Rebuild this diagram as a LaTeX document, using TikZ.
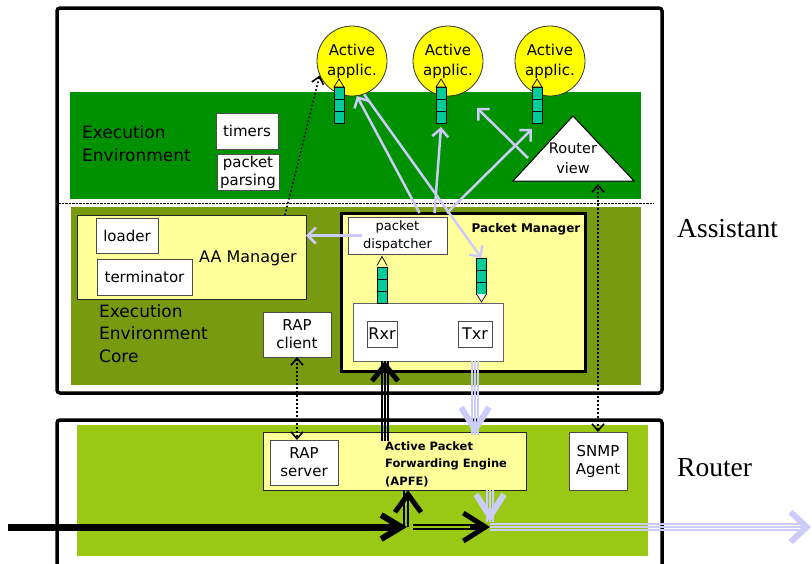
\documentclass[tikz,border=0pt]{standalone}
\usepackage{fontspec}
\setmainfont{DejaVu Sans}
\newfontfamily\lblserif{Liberation Serif}
\usetikzlibrary{arrows.meta}
\definecolor{eegreen}{RGB}{0,145,0}
\definecolor{olivebg}{RGB}{120,154,16}
\definecolor{rgreen}{RGB}{153,201,20}
\definecolor{lyel}{RGB}{255,255,153}
\definecolor{appyel}{RGB}{255,255,0}
\definecolor{qteal}{RGB}{0,204,153}
\definecolor{lav}{RGB}{204,204,250}
\tikzset{
  chev/.tip={Straight Barb[length=7pt,width=12pt,line width=1.6pt]},
  lchev/.tip={Straight Barb[length=8pt,width=16pt,line width=2.5pt]},
}
\begin{document}
\begin{tikzpicture}[x=1pt,y=-1pt,
  region/.style={anchor=north west, inner sep=0pt, outer sep=0pt, draw=none},
  box/.style={draw=black!70, fill=white, line width=0.9pt, inner sep=0pt, outer sep=0pt, align=center, font=\fontsize{15}{18}\selectfont},
  ybox/.style={draw=black!85, fill=lyel, line width=1pt},
  lbl/.style={inner sep=0pt, align=left, font=\fontsize{17}{23}\selectfont},
  app/.style={circle, draw=black!80, fill=appyel, line width=0.8pt, minimum size=70pt, inner sep=0pt, align=center, font=\fontsize{15}{20}\selectfont},
  queue/.style={draw=black, fill=qteal, line width=0.7pt, minimum width=10pt, minimum height=36pt, inner sep=0pt, outer sep=0pt,
    path picture={\draw[line width=0.7pt] ([yshift=-12pt]path picture bounding box.north west) -- ([yshift=-12pt]path picture bounding box.north east) ([yshift=12pt]path picture bounding box.south west) -- ([yshift=12pt]path picture bounding box.south east);}},
  frame/.style={draw=black, line width=3.5pt, rounded corners=3pt, fill=white},
  dotline/.style={line width=1.6pt, dash pattern=on 1.6pt off 2.4pt},
  lavarrow/.style={draw=lav, line width=2.5pt, -lchev},
  lavthin/.style={draw=lav, line width=1.5pt},
  blkthin/.style={draw=black, line width=1.6pt},
]
\useasboundingbox (0,0) rectangle (812,563);

% frames and backgrounds
\node[region, frame, minimum width=605pt, minimum height=385pt] (asst) at (57,8) {};
\node[region, frame, minimum width=605pt, minimum height=170pt] (rtr) at (57,420) {};
\node[region, fill=eegreen, minimum width=571pt, minimum height=107pt] (ee) at (70,92) {};
\coordinate (sepL) at (58,203);
\coordinate (sepR) at (654,203);
\draw[black, line width=0.9pt, dash pattern=on 2.5pt off 1pt] (sepL) -- (sepR);
\node[region, fill=olivebg, minimum width=570pt, minimum height=178pt] (eec) at (71,207) {};
\node[region, fill=rgreen, minimum width=571pt, minimum height=131pt] (rbg) at (77,425) {};

% execution environment
\node[lbl, anchor=west] (eelbl) at (82,143.5) {Execution\\Environment};
\node[box, minimum width=62pt, minimum height=36pt] (timers) at (247,131) {timers};
\node[box, minimum width=62pt, minimum height=36pt] (parse) at (248,172) {packet\\parsing};
\node[app] (c1) at (352,61) {Active\\applic.};
\node[app] (c2) at (448,61) {Active\\applic.};
\node[app] (c3) at (550,61) {Active\\applic.};
\node[queue] (q1) at (339,105) {};
\node[queue] (q2) at (441,105) {};
\node[queue] (q3) at (537,105) {};
\foreach \q in {q1,q2,q3}
  \draw[fill=appyel, line width=0.7pt] (\q.north west) -- ([yshift=8pt]\q.north) -- (\q.north east) -- cycle;
\coordinate (rvL) at (513,181);
\coordinate (rvT) at (573,116);
\coordinate (rvR) at (634,181);
\draw[fill=white, line width=1pt] (rvL) -- (rvT) -- (rvR) -- cycle;
\node[inner sep=0pt, align=center, font=\fontsize{14.5}{20}\selectfont] (rvlbl) at (573,158) {Router\\view};

% execution environment core
\node[region, ybox, minimum width=229pt, minimum height=84pt] (aa) at (77,215) {};
\node[inner sep=0pt, font=\fontsize{16}{19}\selectfont] (aalbl) at (248,258) {AA Manager};
\node[box, minimum width=62pt, minimum height=35pt] (loader) at (127,235.5) {loader};
\node[box, minimum width=95pt, minimum height=36pt] (term) at (144.5,277) {terminator};
\node[lbl, anchor=west, font=\fontsize{17}{22.5}\selectfont] (eeclbl) at (99,333.5) {Execution\\Environment\\Core};
\node[box, minimum width=68pt, minimum height=45pt] (rapc) at (297,334.5) {RAP\\client};

% packet manager
\node[region, ybox, draw=black, line width=3pt, minimum width=244pt, minimum height=158pt] (pm) at (341,213) {};
\node[inner sep=0pt, font=\fontsize{12}{14}\selectfont\bfseries] (pmlbl) at (526,229) {Packet Manager};
\node[box, minimum width=99pt, minimum height=37pt, font=\fontsize{13}{18}\selectfont] (disp) at (397.5,235.5) {packet\\dispatcher};
\node[box, draw=black!60, minimum width=150pt, minimum height=58pt] (rxtx) at (428,332) {};
\node[box, minimum width=30pt, minimum height=26pt, font=\fontsize{16}{18}\selectfont] (rxr) at (382,334) {Rxr};
\node[box, minimum width=34pt, minimum height=26pt, font=\fontsize{16}{18}\selectfont] (txr) at (475,334) {Txr};
\node[queue] (q4) at (382,285.5) {};
\node[queue] (q5) at (481.5,276) {};
\draw[line width=0.7pt] ([yshift=2pt]q4.north west) -- ([yshift=11pt]q4.north) -- ([yshift=2pt]q4.north east);
\draw[fill=white, line width=0.7pt] (q5.south west) -- ([yshift=-8pt]q5.south) -- (q5.south east);

% router
\node[region, ybox, minimum width=263pt, minimum height=58pt] (apfe) at (263,432) {};
\node[inner sep=0pt, anchor=west, align=left, font=\fontsize{11.5}{17.5}\selectfont\bfseries] (apfelbl) at (385,464) {Active Packet\\Forwarding Engine\\(APFE)};
\node[box, minimum width=68pt, minimum height=45pt] (raps) at (304,462.5) {RAP\\server};
\node[box, minimum width=58pt, minimum height=58pt] (snmp) at (598,461) {SNMP\\Agent};

% side labels
\node[anchor=west, inner sep=0pt, font=\lblserif\fontsize{27.5}{30}\selectfont] (asstlbl) at (677,229) {Assistant};
\node[anchor=west, inner sep=0pt, font=\lblserif\fontsize{27.5}{30}\selectfont] (rtrlbl) at (677,468) {Router};

% dotted connectors
\draw[dotline, -chev] ([xshift=-21pt]aa.north east) -- (c1.204);
\draw[dotline, chev-chev] (rapc.south) -- (rapc.south |- raps.north);
\coordinate (rvb) at (598,184);
\draw[dotline, chev-chev] (snmp.north) -- (rvb);

% lavender control arrows
\draw[lavarrow] ([xshift=22pt,yshift=4pt]disp.north) -- (c1.-82);
\draw[lavarrow] (c1.-70) -- (q5.north);
\draw[lavarrow] ([xshift=37pt,yshift=4pt]disp.north) -- ([yshift=-4pt]q2.south);
\draw[lavarrow] ([yshift=4pt]disp.north east) -- ([yshift=-6pt]q3.south west);
\coordinate (rvarr) at (528,158);
\coordinate (rvtip) at (477,108);
\draw[lavarrow] (rvarr) -- (rvtip);
\draw[lavarrow] ([xshift=14pt]disp.west) -- (aa.east |- disp.west);

% Txr -> APFE (lavender triple)
\coordinate (txrb) at (txr.south |- rxtx.south);
\coordinate (txre) at ([yshift=-3pt]txr.south |- apfe.north);
\foreach \d in {-3,0,3}
  \draw[lavthin] ([xshift=\d pt]txrb) -- ([xshift=\d pt]txre);
\draw[lavthin, -{Straight Barb[length=22pt,width=28pt,line width=6pt]}] ([yshift=20pt]txre) -- (txre);

% APFE -> Rxr (black triple)
\coordinate (rxb) at ([xshift=3pt,yshift=-9pt]rxr.south |- apfe.north);
\coordinate (rxt) at ([xshift=3pt]rxr.south |- rxtx.south);
\foreach \d in {-3,0,3}
  \draw[blkthin] ([xshift=\d pt]rxb) -- ([xshift=\d pt]rxt);
\draw[blkthin, -{Straight Barb[length=16pt,width=26pt,line width=5pt]}] ([yshift=-20pt]rxt) -- (rxt);

% main packet flow
\coordinate (in) at (8,527);
\coordinate (j1) at (407,527);
\coordinate (j2) at (490,527);
\coordinate (out) at (811,527);
\coordinate (j1up) at (j1 |- apfe.south);
\coordinate (j2up) at (apfe.south -| j2);
\draw[line width=7pt, -{Straight Barb[length=20pt,width=24pt,line width=6pt]}] (in) -- (j1);
\draw[line width=1.6pt] ([xshift=-3pt]j1) -- ([xshift=-3pt]j1up);
\draw[line width=1.6pt, -{Straight Barb[length=18pt,width=26pt,line width=5pt]}] ([xshift=1pt]j1) -- ([xshift=1pt]j1up);
\draw[line width=2pt] ([xshift=6pt,yshift=2pt]j1) -- ([xshift=-6pt,yshift=2pt]j2);
\draw[line width=2pt] ([xshift=6pt,yshift=-2pt]j1) -- ([xshift=-6pt,yshift=-2pt]j2);
\draw[line width=2pt, -{Straight Barb[length=22pt,width=28pt,line width=5pt]}] ([xshift=-20pt]j2) -- (j2);
\foreach \d in {-3,0,3}
  \draw[lavthin] ([xshift=\d pt]j2up) -- ([xshift=\d pt,yshift=5pt]j2);
\draw[lavthin, -{Straight Barb[length=22pt,width=28pt,line width=6pt]}] (j2up) -- ([yshift=5pt]j2);
\foreach \d in {-3,0,3}
  \draw[lavthin] ([yshift=\d pt]j2) -- ([yshift=\d pt,xshift=-4pt]out);
\draw[lavthin, -{Straight Barb[length=16pt,width=30pt,line width=6pt]}] ([xshift=-30pt]out) -- (out);
\end{tikzpicture}
\end{document}
